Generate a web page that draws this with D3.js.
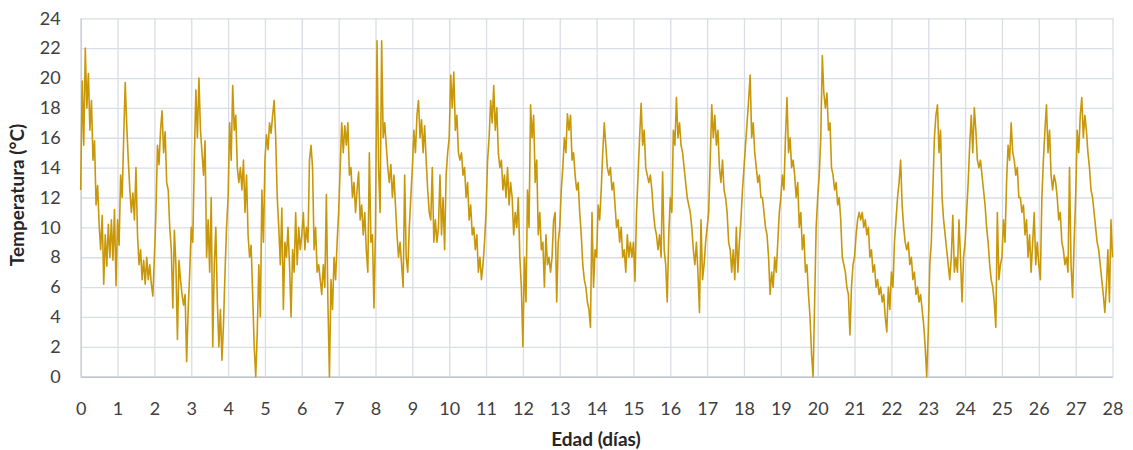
<!DOCTYPE html>
<html>
<head>
<meta charset="utf-8">
<script src="https://cdn.jsdelivr.net/npm/d3@7"></script>
<style>
  body { margin: 0; background: #fff; }
  text { font-family: Lato, "Liberation Sans", sans-serif; fill: #404040; }
</style>
</head>
<body>
<svg id="chart" width="1133" height="450"></svg>
<script>
// Hourly temperature readings (°C), one row of 24 readings per day.
const semana1 = [
  [12.5,19.8,15.5,22,18,20.3,16.5,18.5,14.5,15.8,11.5,12.8,10.2,8.5,10.8,6.2,9.5,7.4,10.2,8,10.5,7.8,11.2,6.1],
  [10.5,8.8,13.5,12,16,19.7,16.8,14.5,12.5,11,12.3,10.5,14,9.5,7.5,8.5,6.5,7.8,6.2,8,6.5,7.5,6.2,5.4],
  [8,11,15.5,14.2,16.5,17.8,15,16.4,13,12.5,10,8.5,4.6,9.8,7.5,2.5,7.8,6.5,5.5,4.8,5.5,1.0,4.5,7],
  [10,9,14.5,19.2,16,20,16.5,15,13.5,15.8,8,10.5,7,12,2,7.5,10,5,2,4.5,1.1,3.5,7,10],
  [12,17,14.5,19.5,16.5,17.5,14,13,14,12.5,14.5,11,13.5,9.5,8,8.8,5.5,2,0,3,7.5,4,12.5,9],
  [14.5,16.2,15.2,17,16.3,17.5,18.5,16,12,10,7.5,11.3,4.5,9,8,10,7.5,4,8.5,7,11,7.5,10,8.5],
  [9.5,11,8.5,10,9,14.5,15.5,14,8.5,10,7,7.5,6.5,5.5,7.5,6,12.2,5,0,6.5,4.5,8,6.5,9]
];
const semana2 = [
  [11,14,17,15,16.8,15.5,17,13.5,14,12,13,11,12.5,13.7,10.5,11.5,9.5,11,8.5,7,15,9,9.5,4.6],
  [10,22.5,14,11,22.5,16,17,15.5,14,13,14.2,12,13.5,11.5,9.5,8,9,7.5,6,13.5,8,7,10,12],
  [14,16.5,15,17.5,18.5,16,17.2,15,16.8,14.5,12.5,11,10.5,14,9,10.5,9,10,13.5,9.5,12,8.5,13.5,15],
  [16,20.2,18,20.4,16.5,17.5,15,14.5,15,13.5,14,12,13,10.5,11.5,9.5,10,8.5,9.5,7,8,6.5,7.5,9],
  [11,14.5,16,18.5,17,19.5,16.5,18,15,14,14.5,12.5,13.5,12,14,11.5,13,12,9.5,11,10,12,8,6],
  [2,8,5,12.5,10,18.2,16,17.5,13,14.5,9.5,11,8.5,9,6,9.5,7.5,8,7,8,10.5,11,5,9],
  [10,12.5,14,16,15,17.6,16.5,17.5,14.5,15,13.5,12.5,13,11,9.5,7.5,6.5,6,5,4.5,3.3,11,6,8.5]
];
const semana3 = [
  [8,11.5,10.5,12.5,15,17,15.5,14,13.5,14,12.5,13,11.5,10,10.5,9,10,8,8.5,7,9.5,8,9,8],
  [9,6.4,11,13.5,16,18.3,15.5,16.5,14,13.5,13,13.5,12.5,11,10,9.5,8.5,9.5,8,13.7,8.5,7.5,5,9.5],
  [12,11,16.5,15.5,18.7,16,17,15.5,15,14,13,12,11.5,11,10,8.5,7.5,9,7,4.3,10.5,6.5,7.5,9],
  [10,11,14.5,18.2,16,17.5,15.5,16.5,14,13,14.5,12.5,12,11,9,8.5,7,8.5,6.5,10,7,9,10.5,12.5],
  [14,15.5,17,18.5,20.2,16,17,15,14,13,13.5,12,12,11,10,9.5,8,5.5,7,6,8,7,9,11],
  [12,13.5,12.5,16,18.7,15,16,14,14.5,13.5,12,13,10,11,8.5,9.5,7,7.5,5.5,4,1.5,0,5,10],
  [12,13.5,16,21.5,19,18,19,16.5,17,14,13.5,12.5,13,11.5,12,10.5,8,7.5,7,6,5.5,2.8,6,7.5]
];
const semana4 = [
  [8,9.5,10.5,11,10.5,11,10,10.5,9.5,10,8,8.5,7,7.5,6,6.5,5.5,6,5,5.5,4,3,6,4.5],
  [7,6,9,10.5,12,13,14.5,11.5,10,9,8.5,9,7.5,8,6.5,7,5.5,6,5,5.5,4.5,3.5,2,0],
  [3,7.5,9,12.5,16,17.5,18.2,15,16.5,12,10.5,9.5,8.5,7.5,6.5,8,10.8,7,8,7,10.5,8,5,8],
  [9,11,13,15.5,17.5,15,18,16.5,14.5,14,14.5,13.5,12.5,11.5,10,9,7.5,6.5,6,5,3.3,11,6.5,7.5],
  [8,10.5,9,13,15.5,14.5,17,15,14.5,13.5,14,12,12,11,11.5,9.5,10.5,8,9.5,7,9,11,7.5,9],
  [7.5,6.5,12,14.5,16.5,18.2,15,16.5,13.5,12.5,13.5,13,12,10.5,11,9,8.5,7.5,8,7,14,7.5,5.3,9],
  [12,16.5,15,17.5,18.7,16,17.5,16.5,15,14,12.5,12,11,10,9,8.5,7.5,6.5,5.5,4.3,6,8.5,5,10.5]
];
const ultimaLectura = 8;

const diasTicks = d3.range(0, 29);           // 0 … 28 días
const temperaturaTicks = d3.range(0, 25, 2); // 0 … 24 °C

// Flatten the weekly rows into (edad, temperatura) pairs.
const lecturas = [];
[semana1, semana2, semana3, semana4].forEach((semana, s) =>
  semana.forEach((dia, d) =>
    dia.forEach((v, h) => lecturas.push({ t: s * 7 + d + h / dia.length, v }))));
lecturas.push({ t: 28, v: ultimaLectura });

const svg = d3.select("#chart");
const x = d3.scaleLinear().domain([0, 28]).range([80.7, 1112.5]);
const y = d3.scaleLinear().domain([0, 24]).range([376.7, 18.3]);

// Gridlines
svg.append("g").attr("transform", `translate(0,${y(0)})`)
  .call(d3.axisBottom(x).tickValues(diasTicks).tickSize(-(y(0) - y(24))).tickFormat(""))
  .call(g => g.select(".domain").remove())
  .call(g => g.selectAll("line").attr("stroke", "#d9dde4").attr("stroke-width", 1.3));
svg.append("g").attr("transform", `translate(${x(0)},0)`)
  .call(d3.axisLeft(y).tickValues(temperaturaTicks).tickSize(-(x(28) - x(0))).tickFormat(""))
  .call(g => g.select(".domain").remove())
  .call(g => g.selectAll("line").attr("stroke", "#d9dde4").attr("stroke-width", 1.3));

// Axes with labels
const xAxis = svg.append("g").attr("transform", `translate(0,${y(0)})`)
  .call(d3.axisBottom(x).tickValues(diasTicks).tickSize(0).tickPadding(26).tickFormat(d3.format("d")));
xAxis.select(".domain").attr("stroke", "#bfc5cf").attr("stroke-width", 1.5);
xAxis.selectAll("text").attr("font-size", 18).attr("fill", "#333").style("font-family", "Lato, sans-serif");

const yAxis = svg.append("g").attr("transform", `translate(${x(0)},0)`)
  .call(d3.axisLeft(y).tickValues(temperaturaTicks).tickSize(0).tickPadding(20).tickFormat(d3.format("d")));
yAxis.select(".domain").attr("stroke", "#c8cdd6").attr("stroke-width", 1.3);
yAxis.selectAll("text").attr("font-size", 18).attr("fill", "#333").style("font-family", "Lato, sans-serif");

// Temperature series
svg.append("path")
  .datum(lecturas)
  .attr("fill", "none")
  .attr("stroke", "#c9980a")
  .attr("stroke-width", 1.6)
  .attr("stroke-linejoin", "round")
  .attr("d", d3.line().x(d => x(d.t)).y(d => y(d.v)));

// Axis titles
svg.append("text")
  .attr("x", 596).attr("y", 446)
  .attr("text-anchor", "middle")
  .attr("font-size", 19).attr("font-weight", "bold").attr("fill", "#262626")
  .style("fill", "#262626")
  .text("Edad (días)");
svg.append("text")
  .attr("transform", "translate(24,195) rotate(-90)")
  .attr("text-anchor", "middle")
  .attr("font-size", 19).attr("font-weight", "bold")
  .style("fill", "#262626")
  .text("Temperatura (°C)");
</script>
</body>
</html>
